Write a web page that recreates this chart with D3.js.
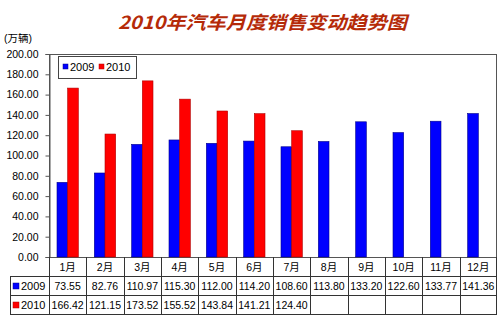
<!DOCTYPE html>
<html>
<head>
<meta charset="utf-8">
<script src="https://cdn.jsdelivr.net/npm/d3@7/dist/d3.min.js"></script>
<style>
  html, body { margin: 0; padding: 0; background: #fff; }
  svg { display: block; }
  text { font-family: "Liberation Sans", Arial, "Noto Sans CJK SC", sans-serif; fill: #000; }
</style>
</head>
<body>
<svg id="chart" width="500" height="326"></svg>
<script>
// Monthly vehicle sales (万辆)
const months = ["1月", "2月", "3月", "4月", "5月", "6月", "7月", "8月", "9月", "10月", "11月", "12月"];
const sales2009 = [73.55, 82.76, 110.97, 115.30, 112.00, 114.20, 108.60, 113.80, 133.20, 122.60, 133.77, 141.36];
const sales2010 = [166.42, 121.15, 173.52, 155.52, 143.84, 141.21, 124.40];
const seriesNames = ["2009", "2010"];
const seriesColors = ["#0000ff", "#ff0000"];
const seriesStrokes = ["#00008a", "#b00000"];
const yMax = 200;

const svg = d3.select("#chart");

const plot = { left: 49, right: 497, top: 54, bottom: 257 };
const rowH = 19;
const tableLeft = 10;

const x = d3.scaleBand().domain(months).range([plot.left, plot.right]).paddingInner(0).paddingOuter(0);
const barW = x.bandwidth() / 3.5;
const xSeries = d3.scaleBand().domain(seriesNames).range([0, barW * 2]);
const y = d3.scaleLinear().domain([0, yMax]).range([plot.bottom, plot.top]);

// Title
svg.append("text")
  .attr("x", 118).attr("y", 29)
  .attr("textLength", 289).attr("lengthAdjust", "spacingAndGlyphs")
  .style("font-family", "'Noto Sans CJK SC', 'Liberation Sans', sans-serif")
  .style("font-size", "18px").style("font-weight", "bold").style("font-style", "italic")
  .style("fill", "#b52a08")
  .attr("transform", "skewX(0)")
  .text("2010年汽车月度销售变动趋势图");

// Unit label
svg.append("text")
  .attr("x", 4).attr("y", 42)
  .style("font-size", "10.5px")
  .style("font-family", "'Liberation Sans', 'Noto Sans CJK SC', sans-serif")
  .text("(万辆)");

// Plot frame
svg.append("rect")
  .attr("x", plot.left + 0.5).attr("y", plot.top + 0.5)
  .attr("width", plot.right - plot.left - 1).attr("height", plot.bottom - plot.top)
  .attr("fill", "#fff").attr("stroke", "#555").attr("stroke-width", 1);

// Y axis
const yAxis = d3.axisLeft(y).tickValues(d3.range(0, yMax + 1, 20)).tickSize(4).tickFormat(d3.format(".2f"));
const gy = svg.append("g").attr("transform", `translate(${plot.left + 0.5},0)`).call(yAxis);
gy.select(".domain").attr("stroke", "#555");
gy.selectAll(".tick line").attr("stroke", "#555");
gy.selectAll(".tick text")
  .attr("x", -11)
  .style("font-size", "10.5px").style("font-family", "'Liberation Sans', Arial, sans-serif")
  .attr("fill", "#000");

// Bars
const series = [sales2009, sales2010];
series.forEach((vals, si) => {
  svg.append("g").selectAll("rect")
    .data(vals.map((v, i) => ({ m: months[i], v })))
    .join("rect")
    .attr("x", d => x(d.m) + (x.bandwidth() - barW * 2) / 2 + xSeries(seriesNames[si]))
    .attr("y", d => y(d.v))
    .attr("width", barW)
    .attr("height", d => y(0) - y(d.v))
    .attr("fill", seriesColors[si])
    .attr("stroke", seriesStrokes[si]).attr("stroke-width", 0.6);
});

// Legend
const lg = svg.append("g");
lg.append("rect").attr("x", 58.5).attr("y", 56.5).attr("width", 78).attr("height", 22)
  .attr("fill", "#fff").attr("stroke", "#444");
const legendX = [63, 99];
seriesNames.forEach((n, i) => {
  lg.append("rect").attr("x", legendX[i]).attr("y", 64).attr("width", 5).attr("height", 5)
    .attr("fill", seriesColors[i]).attr("stroke", seriesStrokes[i]).attr("stroke-width", 0.5);
  lg.append("text").attr("x", legendX[i] + 7).attr("y", 71)
    .style("font-size", "11px").text(n);
});

// Data table
const tbl = svg.append("g");
const lineColor = "#333";
const tableBottom = plot.bottom + rowH * 3;
// horizontal rules
[plot.bottom + rowH, plot.bottom + rowH * 2, tableBottom].forEach(yy => {
  tbl.append("line").attr("x1", tableLeft).attr("x2", plot.right)
    .attr("y1", yy + 0.5).attr("y2", yy + 0.5).attr("stroke", lineColor);
});
// left edge of the table
tbl.append("line").attr("x1", tableLeft + 0.5).attr("x2", tableLeft + 0.5)
  .attr("y1", plot.bottom + rowH).attr("y2", tableBottom + 0.5).attr("stroke", lineColor);
// category boundaries
months.forEach(m => {
  tbl.append("line").attr("x1", Math.round(x(m)) + 0.5).attr("x2", Math.round(x(m)) + 0.5)
    .attr("y1", plot.bottom).attr("y2", tableBottom + 0.5).attr("stroke", lineColor);
});
tbl.append("line").attr("x1", plot.right - 0.5).attr("x2", plot.right - 0.5)
  .attr("y1", plot.bottom).attr("y2", tableBottom + 0.5).attr("stroke", lineColor);

// category labels
tbl.selectAll("text.cat").data(months).join("text")
  .attr("class", "cat")
  .attr("x", d => x(d) + x.bandwidth() / 2)
  .attr("y", plot.bottom + rowH / 2 + 4)
  .attr("text-anchor", "middle")
  .style("font-size", "10.5px")
  .style("font-family", "'Liberation Sans', 'Noto Sans CJK SC', sans-serif")
  .text(d => d);

// series rows
series.forEach((vals, si) => {
  const rowY = plot.bottom + rowH * (si + 1);
  tbl.append("rect").attr("x", 13).attr("y", rowY + 7).attr("width", 6).attr("height", 6)
    .attr("fill", seriesColors[si]).attr("stroke", seriesStrokes[si]).attr("stroke-width", 0.5);
  tbl.append("text").attr("x", 21).attr("y", rowY + rowH / 2 + 4)
    .style("font-size", "11px").text(seriesNames[si]);
  tbl.selectAll(null).data(vals.map((v, i) => ({ m: months[i], v }))).join("text")
    .attr("x", d => x(d.m) + x.bandwidth() / 2)
    .attr("y", rowY + rowH / 2 + 4)
    .attr("text-anchor", "middle")
    .style("font-size", "10.5px")
    .text(d => d.v.toFixed(2));
});
</script>
</body>
</html>
